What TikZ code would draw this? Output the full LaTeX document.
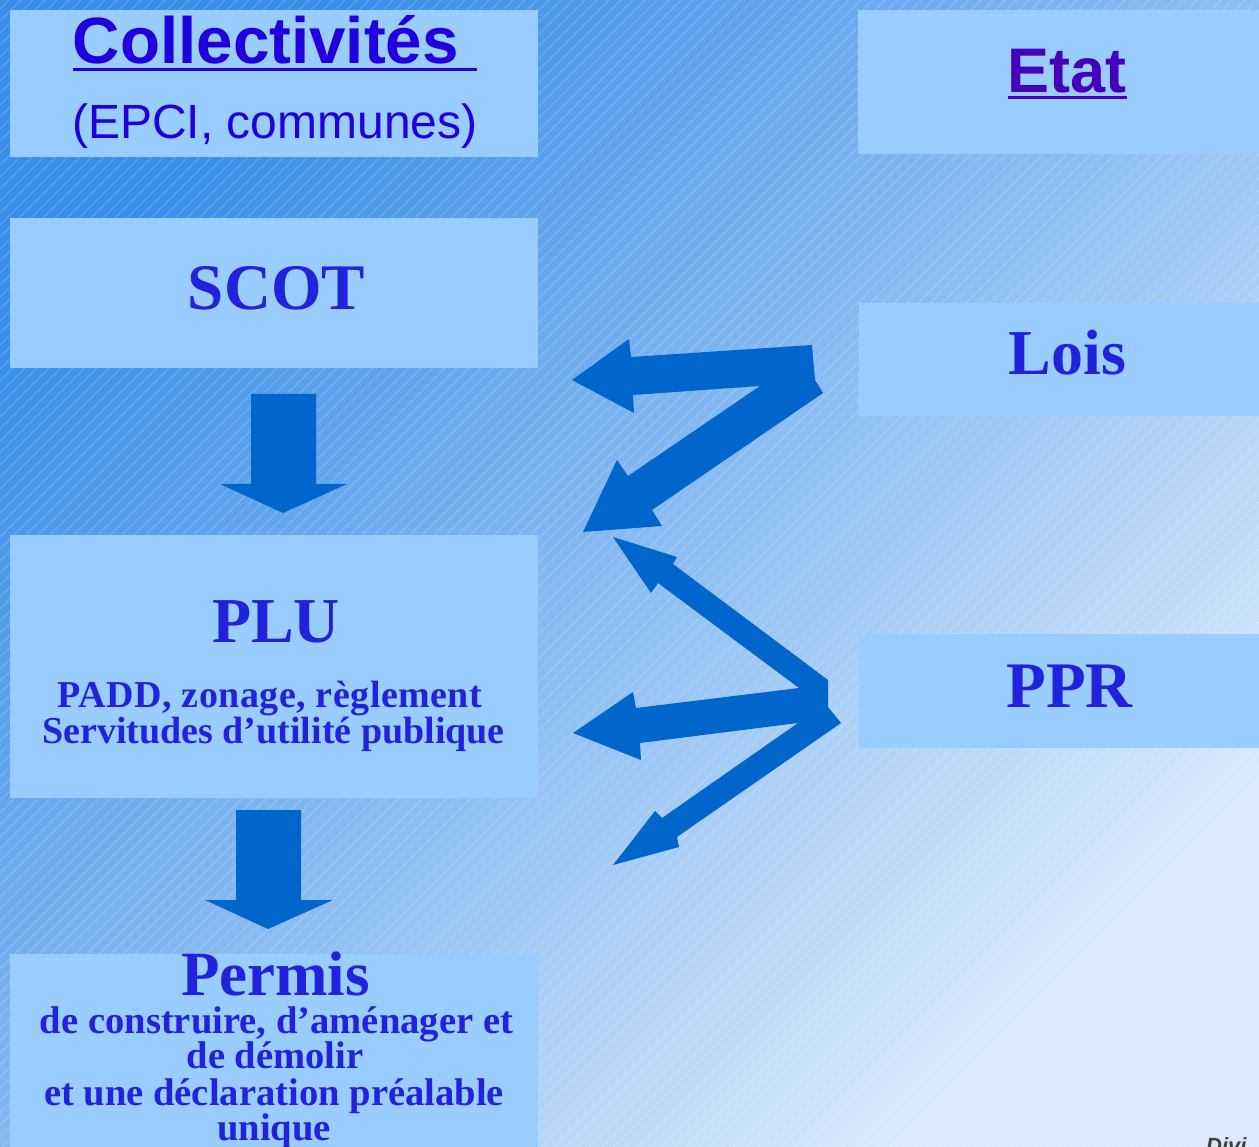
\documentclass[tikz,border=0pt]{standalone}
\usepackage{fontspec}
\setmainfont{Liberation Serif}
\newfontfamily\lsans{Liberation Sans}
\definecolor{boxfill}{HTML}{99CCFF}
\definecolor{txtblue}{HTML}{2222DD}
\definecolor{collblue}{HTML}{2200DD}
\definecolor{etatpurple}{HTML}{4400BB}
\definecolor{arrowblue}{HTML}{0066CC}
\definecolor{bgdark}{HTML}{3A8EE8}
\definecolor{bgmid}{HTML}{8ABEF2}
\definecolor{bglight}{HTML}{DAEAFC}
\newcommand\ulbar[3]{\setbox0\hbox{#3}\rlap{\rule[#1]{\wd0}{#2}}\box0}
\begin{document}
\begin{tikzpicture}[x=1pt,y=-1pt,
  box/.style={fill=boxfill, draw=none, inner sep=0, outer sep=0},
  lbl/.style={anchor=base, inner sep=0, outer sep=0, text=txtblue},
  blockarrow/.style={fill=arrowblue, draw=none},
  hatch/.style={white, opacity=0.3, line width=0.6}]
\useasboundingbox (0,0) rectangle (1259,1147);
\clip (0,0) rectangle (1259,1147);
\shade[top color=bgdark, middle color=bgmid, bottom color=bglight, shading angle=45] (0,0) rectangle (1259,1147);
\foreach \i in {-1150,-1138,...,1262} \draw[hatch] (\i,1147) -- (\i+1147,0);

% boxes
\node[box, minimum width=528, minimum height=147] (coll) at (274,83.5) {};
\node[box, minimum width=412, minimum height=144] (etat) at (1064,82) {};
\node[box, minimum width=528, minimum height=150] (scot) at (274,293) {};
\node[box, minimum width=411, minimum height=113] (lois) at (1064.5,359.5) {};
\node[box, minimum width=528, minimum height=263] (plu) at (274,666.5) {};
\node[box, minimum width=411, minimum height=114] (ppr) at (1064.5,691) {};
\node[box, minimum width=528, minimum height=206] (permis) at (274,1057) {};

% texts
\node[lbl, text=collblue, font={\lsans\bfseries\fontsize{65.5}{72}\selectfont}] (tcoll) at (275,64) {\ulbar{-7.5pt}{3.5pt}{Collectivités\ }};
\node[lbl, text=collblue, font={\lsans\fontsize{48}{54}\selectfont}] (tepci) at (275,139) {(EPCI, communes)};
\node[lbl, text=etatpurple, font={\lsans\bfseries\fontsize{63}{70}\selectfont}] (tetat) at (1067,93) {\ulbar{-6.5pt}{3pt}{Etat}};
\node[lbl, font={\bfseries\fontsize{65}{72}\selectfont}] (tscot) at (276.5,310) {SCOT};
\node[lbl, font={\bfseries\fontsize{64}{72}\selectfont}] (tlois) at (1067.5,375) {Lois};
\node[lbl, font={\bfseries\fontsize{65}{72}\selectfont}] (tppr) at (1069.5,707) {PPR};
\node[lbl, font={\bfseries\fontsize{64}{72}\selectfont}] (tplu) at (276,642) {PLU};
\node[lbl, font={\bfseries\fontsize{38}{36}\selectfont\addfontfeature{LetterSpace=1.2}}] (tpadd) at (270,707) {PADD, zonage, règlement};
\node[lbl, font={\bfseries\fontsize{38}{36}\selectfont}] (tserv) at (273.5,743) {Servitudes d’utilité publique};
\node[lbl, font={\bfseries\fontsize{63}{70}\selectfont}] (tpermis) at (275.5,995) {Permis};
\node[lbl, font={\bfseries\fontsize{38.6}{36}\selectfont}] (tp1) at (276.5,1033) {de construire, d’aménager et};
\node[lbl, font={\bfseries\fontsize{38.6}{36}\selectfont}] (tp2) at (275,1068) {de démolir};
\node[lbl, font={\bfseries\fontsize{38.6}{36}\selectfont}] (tp3) at (274,1105) {et une déclaration préalable};
\node[lbl, font={\bfseries\fontsize{38.6}{36}\selectfont}] (tp4) at (274,1140) {unique};
\node[anchor=base west, inner sep=0, text=black!75, font={\lsans\bfseries\itshape\fontsize{22}{26}\selectfont}] (divi) at (1206,1153) {Divi};

% down block arrows
\fill[blockarrow] (251,394) -- (316,394) -- (316,484) -- (347,484) -- (283,513) -- (220,484) -- (251,484) -- cycle;
\fill[blockarrow] (236,810) -- (301,810) -- (301,900) -- (333,900) -- (268,929) -- (205,900) -- (236,900) -- cycle;

% zigzag from Lois
\fill[blockarrow] (572,380) -- (629,339) -- (631,357) -- (812,345) -- (815,380) -- (823,393)
  -- (652,510) -- (662,526) -- (583,532) -- (617,460) -- (628,476) -- (760,386)
  -- (633,395) -- (634,413) -- cycle;

% arrows from PPR
\fill[blockarrow] (613,537) -- (677,557) -- (673,564) -- (828,680) -- (828,707) -- (841,723)
  -- (677,837) -- (679,847) -- (613,865) -- (655,811) -- (662,818) -- (798,723)
  -- (640,743) -- (641,760) -- (573,733) -- (633,692) -- (636,708) -- (799,688)
  -- (658,583) -- (651,593) -- cycle;
\end{tikzpicture}
\end{document}
